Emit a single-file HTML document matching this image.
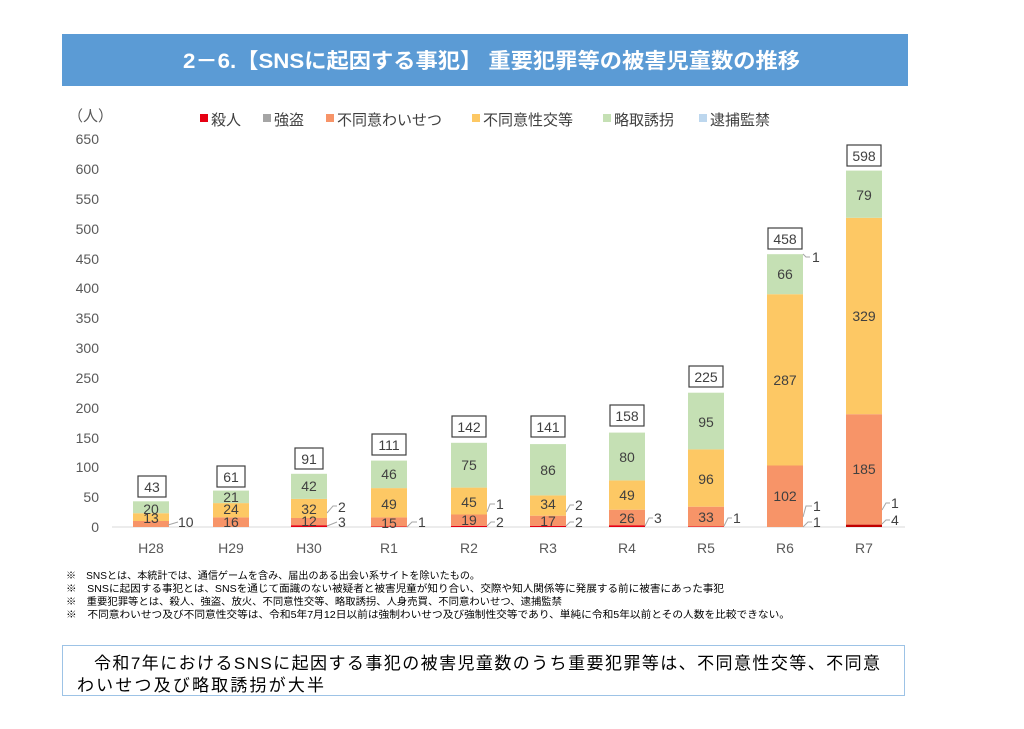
<!DOCTYPE html>
<html><head><meta charset="utf-8"><style>
body{margin:0;background:#fff;}
svg text{font-family:"Liberation Sans","Noto Sans CJK JP",sans-serif;}
</style></head><body>
<svg width="1024" height="724" viewBox="0 0 1024 724" xmlns="http://www.w3.org/2000/svg">
<rect x="62" y="34" width="846" height="52" fill="#5b9bd5"/>
<text x="183" y="68" font-size="21" font-weight="bold" fill="#fff" textLength="617" lengthAdjust="spacingAndGlyphs">2－6.【SNSに起因する事犯】 重要犯罪等の被害児童数の推移</text>

<text x="68" y="121" font-size="15" fill="#595959">（人）</text>
<g font-size="15" fill="#404040">
<rect x="200" y="114" width="8" height="8" fill="#e60012"/><text x="211" y="125">殺人</text>
<rect x="263" y="114" width="8" height="8" fill="#a5a5a5"/><text x="274" y="125">強盗</text>
<rect x="326" y="114" width="8" height="8" fill="#f79468"/><text x="337" y="125">不同意わいせつ</text>
<rect x="472" y="114" width="8" height="8" fill="#fdc864"/><text x="483" y="125">不同意性交等</text>
<rect x="603" y="114" width="8" height="8" fill="#c5e0b4"/><text x="614" y="125">略取誘拐</text>
<rect x="699" y="114" width="8" height="8" fill="#bdd7ee"/><text x="710" y="125">逮捕監禁</text>
</g>

<g font-size="14" fill="#595959" text-anchor="end">
<text x="99" y="144">650</text><text x="99" y="174">600</text><text x="99" y="204">550</text><text x="99" y="234">500</text>
<text x="99" y="264">450</text><text x="99" y="293">400</text><text x="99" y="323">350</text><text x="99" y="353">300</text>
<text x="99" y="383">250</text><text x="99" y="413">200</text><text x="99" y="443">150</text><text x="99" y="472">100</text>
<text x="99" y="502">50</text><text x="99" y="532">0</text>
</g>
<line x1="112" y1="527" x2="905" y2="527" stroke="#d9d9d9"/>

<g>
<rect x="133" y="521" width="36" height="6" fill="#f79468"/><rect x="133" y="513.2" width="36" height="7.8" fill="#fdc864"/><rect x="133" y="501.3" width="36" height="11.9" fill="#c5e0b4"/>
<rect x="213" y="517.4" width="36" height="9.6" fill="#f79468"/><rect x="213" y="503.1" width="36" height="14.3" fill="#fdc864"/><rect x="213" y="490.6" width="36" height="12.5" fill="#c5e0b4"/>
<rect x="291" y="525.2" width="36" height="1.8" fill="#e60012"/><rect x="291" y="518" width="36" height="7.2" fill="#f79468"/><rect x="291" y="498.9" width="36" height="19.1" fill="#fdc864"/><rect x="291" y="473.8" width="36" height="25.1" fill="#c5e0b4"/>
<rect x="371" y="526.4" width="36" height="0.6" fill="#e60012"/><rect x="371" y="517.4" width="36" height="9" fill="#f79468"/><rect x="371" y="488.1" width="36" height="29.3" fill="#fdc864"/><rect x="371" y="460.6" width="36" height="27.5" fill="#c5e0b4"/>
<rect x="451" y="525.8" width="36" height="1.2" fill="#e60012"/><rect x="451" y="514.5" width="36" height="11.3" fill="#f79468"/><rect x="451" y="487.6" width="36" height="26.9" fill="#fdc864"/><rect x="451" y="442.8" width="36" height="44.8" fill="#c5e0b4"/>
<rect x="530" y="525.8" width="36" height="1.2" fill="#e60012"/><rect x="530" y="515.7" width="36" height="10.1" fill="#f79468"/><rect x="530" y="495.4" width="36" height="20.3" fill="#fdc864"/><rect x="530" y="444.1" width="36" height="51.3" fill="#c5e0b4"/>
<rect x="609" y="525.2" width="36" height="1.8" fill="#e60012"/><rect x="609" y="509.7" width="36" height="15.5" fill="#f79468"/><rect x="609" y="480.4" width="36" height="29.3" fill="#fdc864"/><rect x="609" y="432.6" width="36" height="47.8" fill="#c5e0b4"/>
<rect x="688" y="526.4" width="36" height="0.6" fill="#e60012"/><rect x="688" y="506.7" width="36" height="19.7" fill="#f79468"/><rect x="688" y="449.4" width="36" height="57.3" fill="#fdc864"/><rect x="688" y="392.7" width="36" height="56.7" fill="#c5e0b4"/>
<rect x="767" y="465.5" width="36" height="61.5" fill="#f79468"/><rect x="767" y="294.2" width="36" height="171.3" fill="#fdc864"/><rect x="767" y="254.2" width="36" height="40" fill="#c5e0b4"/>
<rect x="846" y="524.6" width="36" height="2.4" fill="#c00000"/><rect x="846" y="414.2" width="36" height="110.4" fill="#f79468"/><rect x="846" y="217.8" width="36" height="196.4" fill="#fdc864"/><rect x="846" y="170.6" width="36" height="47.2" fill="#c5e0b4"/>
</g>

<g font-size="14" fill="#404040" text-anchor="middle">
<text x="151" y="514">20</text><text x="151" y="523">13</text>
<text x="231" y="502">21</text><text x="231" y="514">24</text><text x="231" y="527">16</text>
<text x="309" y="491">42</text><text x="309" y="514">32</text><text x="309" y="526">12</text>
<text x="389" y="479">46</text><text x="389" y="509">49</text><text x="389" y="528">15</text>
<text x="469" y="470">75</text><text x="469" y="507">45</text><text x="469" y="525">19</text>
<text x="548" y="475">86</text><text x="548" y="509">34</text><text x="548" y="526">17</text>
<text x="627" y="462">80</text><text x="627" y="500">49</text><text x="627" y="523">26</text>
<text x="706" y="427">95</text><text x="706" y="484">96</text><text x="706" y="522">33</text>
<text x="785" y="279">66</text><text x="785" y="385">287</text><text x="785" y="501">102</text>
<text x="864" y="200">79</text><text x="864" y="321">329</text><text x="864" y="474">185</text>
</g>

<g stroke="#a6a6a6" fill="none" stroke-width="1">
<path d="M168 525 L178 522"/>
<path d="M327 526 L337 522 M327 513 L333 506 L337 506"/>
<path d="M407 527 L412 522 L417 522"/>
<path d="M487 526 L491 522 L495 522 M487 512 L490 504 L495 504"/>
<path d="M566 526 L570 522 L574 522 M566 512 L570 505 L574 505"/>
<path d="M645 526 L649 518 L653 518"/>
<path d="M724 526 L728 518 L732 518"/>
<path d="M803 527 L808 522 L812 522 M803 517 L806 506 L812 506 M803 254 L806 257 L810 257"/>
<path d="M882 524 L886 520 L890 520 M882 510 L886 503 L890 503"/>
</g>
<g font-size="14" fill="#404040">
<text x="178" y="527">10</text>
<text x="338" y="527">3</text><text x="338" y="512">2</text>
<text x="418" y="527">1</text>
<text x="496" y="527">2</text><text x="496" y="509">1</text>
<text x="575" y="527">2</text><text x="575" y="510">2</text>
<text x="654" y="523">3</text>
<text x="733" y="523">1</text>
<text x="813" y="527">1</text><text x="813" y="511">1</text><text x="812" y="262">1</text>
<text x="891" y="525">4</text><text x="891" y="508">1</text>
</g>

<g font-size="14" fill="#404040" text-anchor="middle" stroke-width="1.2">
<rect x="138" y="476" width="28" height="21" fill="#fff" stroke="#404040"/><text x="152" y="492">43</text>
<rect x="217" y="466" width="28" height="21" fill="#fff" stroke="#404040"/><text x="231" y="482">61</text>
<rect x="295" y="448" width="28" height="21" fill="#fff" stroke="#404040"/><text x="309" y="464">91</text>
<rect x="372" y="434" width="34" height="21" fill="#fff" stroke="#404040"/><text x="389" y="450">111</text>
<rect x="452" y="416" width="34" height="21" fill="#fff" stroke="#404040"/><text x="469" y="432">142</text>
<rect x="531" y="416" width="34" height="21" fill="#fff" stroke="#404040"/><text x="548" y="432">141</text>
<rect x="610" y="405" width="34" height="21" fill="#fff" stroke="#404040"/><text x="627" y="421">158</text>
<rect x="689" y="366" width="34" height="21" fill="#fff" stroke="#404040"/><text x="706" y="382">225</text>
<rect x="768" y="228" width="34" height="21" fill="#fff" stroke="#404040"/><text x="785" y="244">458</text>
<rect x="847" y="145" width="34" height="21" fill="#fff" stroke="#404040"/><text x="864" y="161">598</text>
</g>

<g font-size="14" fill="#595959" text-anchor="middle">
<text x="151" y="553">H28</text><text x="231" y="553">H29</text><text x="309" y="553">H30</text><text x="389" y="553">R1</text><text x="469" y="553">R2</text>
<text x="548" y="553">R3</text><text x="627" y="553">R4</text><text x="706" y="553">R5</text><text x="785" y="553">R6</text><text x="864" y="553">R7</text>
</g>

<g font-size="10" fill="#000" lengthAdjust="spacingAndGlyphs">
<text x="66" y="579" textLength="414" lengthAdjust="spacingAndGlyphs">※　SNSとは、本統計では、通信ゲームを含み、届出のある出会い系サイトを除いたもの。</text>
<text x="66" y="592" textLength="658" lengthAdjust="spacingAndGlyphs">※　SNSに起因する事犯とは、SNSを通じて面識のない被疑者と被害児童が知り合い、交際や知人関係等に発展する前に被害にあった事犯</text>
<text x="66" y="605" textLength="496" lengthAdjust="spacingAndGlyphs">※　重要犯罪等とは、殺人、強盗、放火、不同意性交等、略取誘拐、人身売買、不同意わいせつ、逮捕監禁</text>
<text x="66" y="618" textLength="724" lengthAdjust="spacingAndGlyphs">※　不同意わいせつ及び不同意性交等は、令和5年7月12日以前は強制わいせつ及び強制性交等であり、単純に令和5年以前とその人数を比較できない。</text>
</g>

<rect x="62.5" y="645.5" width="842" height="50" fill="#fff" stroke="#9dc3e6"/>
<text x="94" y="669" font-size="17" fill="#000" textLength="786" lengthAdjust="spacing">令和7年におけるSNSに起因する事犯の被害児童数のうち重要犯罪等は、不同意性交等、不同意</text>
<text x="77" y="691" font-size="17" fill="#000" textLength="247" lengthAdjust="spacing">わいせつ及び略取誘拐が大半</text>
</svg>
</body></html>
